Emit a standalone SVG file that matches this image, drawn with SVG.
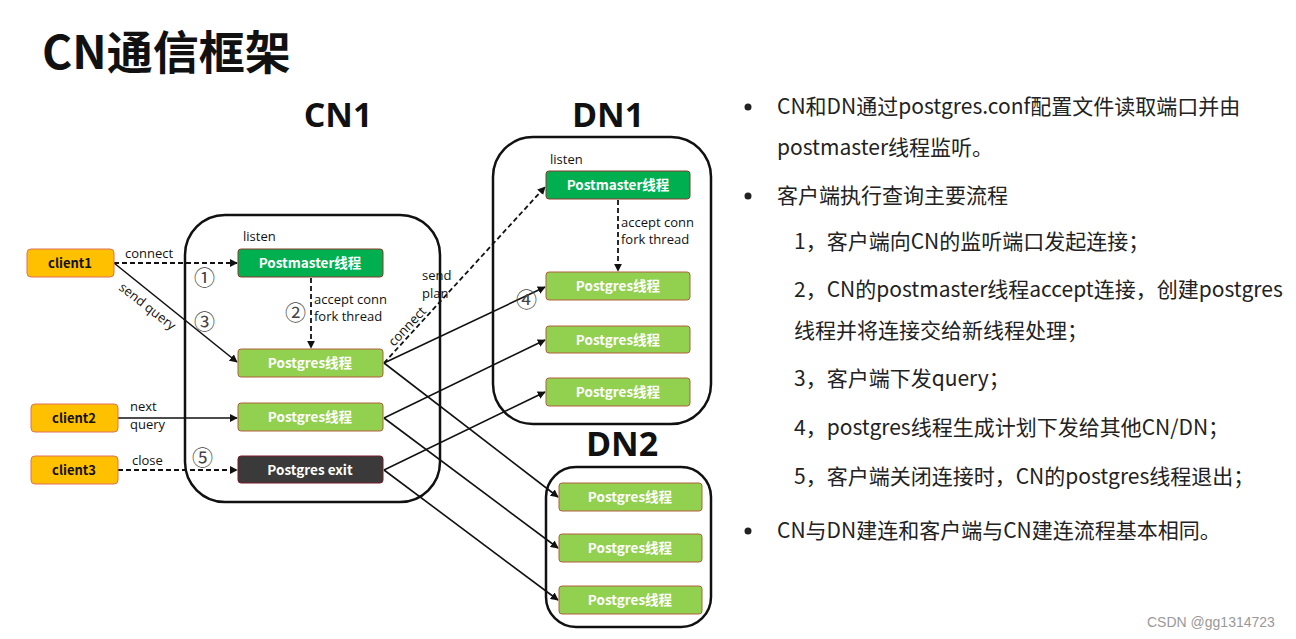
<svg xmlns="http://www.w3.org/2000/svg" width="1296" height="639" viewBox="0 0 1296 639">
<defs>
<marker id="ah" viewBox="0 0 10 10" refX="9" refY="5" markerWidth="8" markerHeight="8" markerUnits="userSpaceOnUse" orient="auto">
<path d="M0,0 L10,5 L0,10 z" fill="#111"/>
</marker>
<style>
.t{font-family:"Noto Sans CJK SC","Noto Sans",sans-serif;}
.title{font-size:46px;font-weight:bold;fill:#111;}
.hdr{font-size:34px;font-weight:bold;fill:#111;font-family:"Open Sans","Noto Sans CJK SC",sans-serif;}
.box{fill:none;stroke:#111;stroke-width:2.5;}
.pm{fill:#00B050;stroke:#8a3a2a;stroke-width:1;}
.pg{fill:#92D050;stroke:#b0603a;stroke-width:1;}
.ex{fill:#3a3a3a;stroke:#7a1a2a;stroke-width:1;}
.cl{fill:#FFC000;stroke:#e0705a;stroke-width:1;}
.nt{font-size:13.5px;font-weight:bold;fill:#fff;text-anchor:middle;}
.ct{font-size:13px;font-weight:bold;fill:#111;text-anchor:middle;}
.lb{font-size:13px;fill:#111;font-family:"Open Sans","Noto Sans",sans-serif;}
.num{font-size:21px;fill:#444;font-family:"Noto Sans CJK SC",sans-serif;}
.ln{stroke:#111;stroke-width:1.6;fill:none;}
.dl{stroke:#111;stroke-width:1.8;fill:none;stroke-dasharray:5,3;}
.rt{font-size:21px;fill:#222;}
</style>
</defs>
<rect width="1296" height="639" fill="#fff"/>
<text x="42" y="69" class="t title">CN通信框架</text>
<text x="338" y="127" class="hdr" text-anchor="middle">CN1</text>
<text x="608" y="127" class="hdr" text-anchor="middle">DN1</text>
<text x="622" y="456" class="hdr" text-anchor="middle">DN2</text>

<g id="cn1-container"><rect x="185" y="215" width="255" height="287" rx="40" class="box"/></g>
<g id="dn1-container"><rect x="493" y="137" width="218" height="287" rx="40" class="box"/></g>
<g id="dn2-container"><rect x="546" y="467" width="165" height="160" rx="30" class="box"/></g>

<g id="connectors">
<line x1="114" y1="263" x2="237" y2="263" class="dl" marker-end="url(#ah)"/>
<line x1="114" y1="263" x2="237" y2="362" class="ln" marker-end="url(#ah)"/>
<line x1="118" y1="418" x2="237" y2="418" class="ln" marker-end="url(#ah)"/>
<line x1="118" y1="470" x2="237" y2="470" class="dl" marker-end="url(#ah)"/>
<line x1="311" y1="278" x2="311" y2="348" class="dl" marker-end="url(#ah)"/>
<line x1="618" y1="200" x2="618" y2="271" class="dl" marker-end="url(#ah)"/>
<line x1="384" y1="363" x2="545" y2="187" class="dl" marker-end="url(#ah)"/>
<line x1="384" y1="363" x2="545" y2="287" class="ln" marker-end="url(#ah)"/>
<line x1="384" y1="363" x2="558" y2="497" class="ln" marker-end="url(#ah)"/>
<line x1="384" y1="418" x2="545" y2="340" class="ln" marker-end="url(#ah)"/>
<line x1="384" y1="418" x2="558" y2="548" class="ln" marker-end="url(#ah)"/>
<line x1="384" y1="470" x2="545" y2="392" class="ln" marker-end="url(#ah)"/>
<line x1="384" y1="470" x2="558" y2="600" class="ln" marker-end="url(#ah)"/>
<text x="125" y="258" class="lb">connect</text>
<text class="lb" transform="translate(118,289) rotate(38)">send query</text>
<text x="130" y="411" class="lb">next</text>
<text x="130" y="429" class="lb">query</text>
<text x="132" y="465" class="lb">close</text>
<text x="243" y="241" class="lb">listen</text>
<text x="550" y="164" class="lb">listen</text>
<text x="314" y="304" class="lb">accept conn</text>
<text x="314" y="321" class="lb">fork thread</text>
<text x="621" y="227" class="lb">accept conn</text>
<text x="621" y="244" class="lb">fork thread</text>
<text x="422" y="280" class="lb">send</text>
<text x="422" y="298" class="lb">plan</text>
<text class="lb" transform="translate(394,347) rotate(-47)">connect</text>
<text x="194" y="285" class="num">①</text>
<text x="285" y="320" class="num">②</text>
<text x="194" y="329" class="num">③</text>
<text x="516" y="307" class="num">④</text>
<text x="192" y="465" class="num">⑤</text>
</g>

<g id="client1"><rect x="27" y="249" width="87" height="28" rx="4" class="cl"/><text x="70" y="268" class="t ct">client1</text></g>
<g id="client2"><rect x="31" y="404" width="87" height="28" rx="4" class="cl"/><text x="74" y="423" class="t ct">client2</text></g>
<g id="client3"><rect x="31" y="456" width="87" height="28" rx="4" class="cl"/><text x="74" y="475" class="t ct">client3</text></g>

<g id="cn1-postmaster"><rect x="238" y="249" width="145" height="28" rx="3" class="pm"/><text x="310" y="268" class="t nt">Postmaster线程</text></g>
<g id="cn1-postgres1"><rect x="238" y="349" width="145" height="28" rx="3" class="pg"/><text x="310" y="368" class="t nt">Postgres线程</text></g>
<g id="cn1-postgres2"><rect x="238" y="403" width="145" height="28" rx="3" class="pg"/><text x="310" y="422" class="t nt">Postgres线程</text></g>
<g id="cn1-exit"><rect x="238" y="456" width="145" height="27" rx="3" class="ex"/><text x="310" y="475" class="t nt">Postgres exit</text></g>

<g id="dn1-postmaster"><rect x="546" y="171" width="144" height="28" rx="3" class="pm"/><text x="618" y="190" class="t nt">Postmaster线程</text></g>
<g id="dn1-postgres1"><rect x="546" y="272" width="144" height="28" rx="3" class="pg"/><text x="618" y="291" class="t nt">Postgres线程</text></g>
<g id="dn1-postgres2"><rect x="546" y="326" width="144" height="27" rx="3" class="pg"/><text x="618" y="345" class="t nt">Postgres线程</text></g>
<g id="dn1-postgres3"><rect x="546" y="378" width="144" height="28" rx="3" class="pg"/><text x="618" y="397" class="t nt">Postgres线程</text></g>

<g id="dn2-postgres1"><rect x="559" y="483" width="143" height="28" rx="3" class="pg"/><text x="630" y="502" class="t nt">Postgres线程</text></g>
<g id="dn2-postgres2"><rect x="559" y="534" width="143" height="28" rx="3" class="pg"/><text x="630" y="553" class="t nt">Postgres线程</text></g>
<g id="dn2-postgres3"><rect x="559" y="586" width="143" height="28" rx="3" class="pg"/><text x="630" y="605" class="t nt">Postgres线程</text></g>

<g id="notes" class="t rt">
<circle cx="748" cy="107" r="3.5" fill="#222"/>
<text x="777" y="114">CN和DN通过postgres.conf配置文件读取端口并由</text>
<text x="777" y="155">postmaster线程监听。</text>
<circle cx="748" cy="196" r="3.5" fill="#222"/>
<text x="777" y="203">客户端执行查询主要流程</text>
<text x="794" y="249">1，客户端向CN的监听端口发起连接；</text>
<text x="794" y="297">2，CN的postmaster线程accept连接，创建postgres</text>
<text x="794" y="338">线程并将连接交给新线程处理；</text>
<text x="794" y="386">3，客户端下发query；</text>
<text x="794" y="435">4，postgres线程生成计划下发给其他CN/DN；</text>
<text x="794" y="484">5，客户端关闭连接时，CN的postgres线程退出；</text>
<circle cx="748" cy="531" r="3.5" fill="#222"/>
<text x="777" y="538">CN与DN建连和客户端与CN建连流程基本相同。</text>
</g>
<text x="1147" y="627" font-family="Liberation Sans,sans-serif" font-size="14" fill="#999">CSDN @gg1314723</text>
</svg>
